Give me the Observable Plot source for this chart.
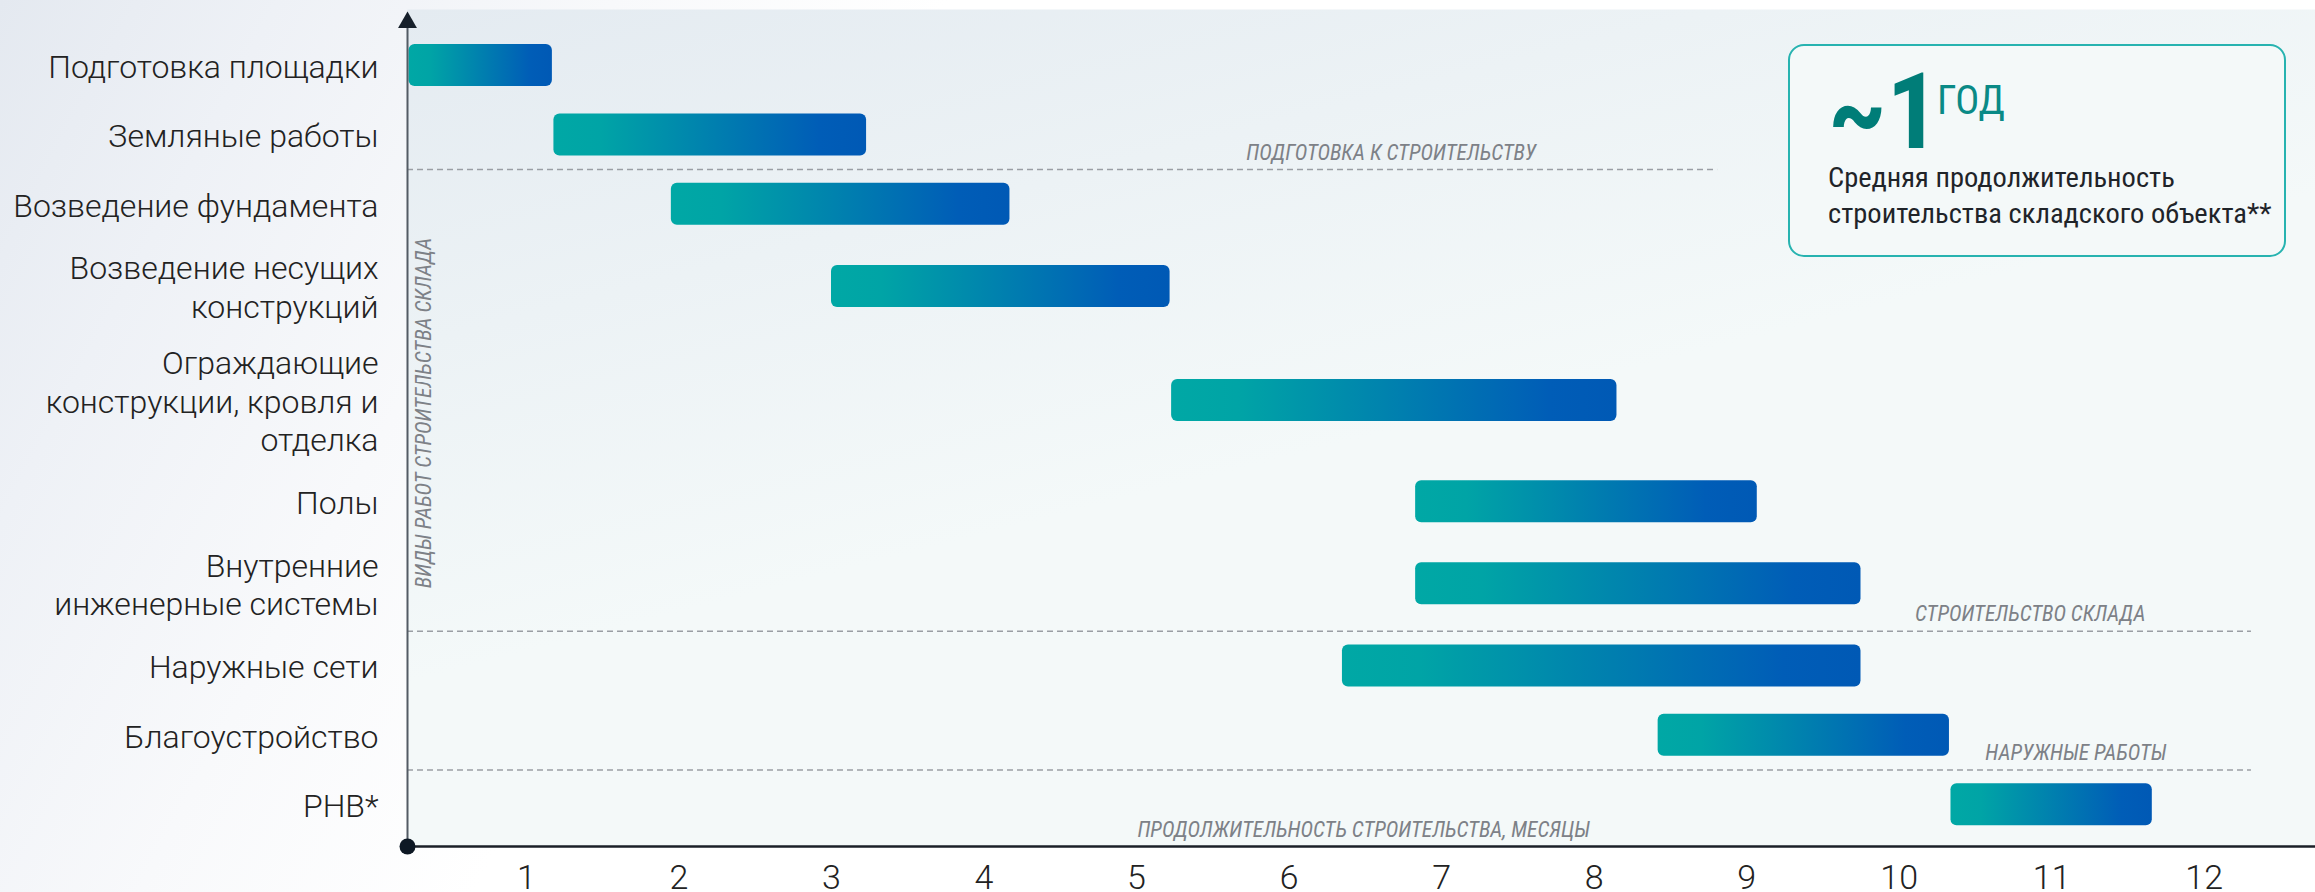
<!DOCTYPE html>
<html><head><meta charset="utf-8">
<script src="https://cdn.jsdelivr.net/npm/d3@7"></script>
<script src="https://cdn.jsdelivr.net/npm/@observablehq/plot@0.6"></script>
<style>
html,body{margin:0;padding:0;}
body{width:2315px;height:892px;overflow:hidden;background:linear-gradient(118deg,#e4e9f0 0%,#eef1f6 10%,#f8f9fb 22%,#ffffff 34%);font-family:Roboto,"Noto Sans",sans-serif;}
#wrap{position:relative;width:2315px;height:892px;}
#wrap svg{position:absolute;left:0;top:0;}
.box{position:absolute;left:1788px;top:44px;width:494px;height:209px;border:2px solid #27b3b0;border-radius:16px;background:#f4f9f9;}
.box .big{position:absolute;left:38px;top:27px;font:700 105px/80px "Roboto Condensed","Liberation Sans Narrow",Roboto,sans-serif;color:#007d78;}
.box .unit{position:absolute;left:147px;top:35px;font:400 40px/1 "Roboto Condensed","Liberation Sans Narrow","DejaVu Sans Condensed",Roboto,sans-serif;color:#0a8a86;}
.box .desc{position:absolute;left:38px;top:114px;font:400 28.5px/36px "Roboto Condensed","Liberation Sans Narrow","DejaVu Sans Condensed",Roboto,sans-serif;color:#1f2429;white-space:nowrap;}
</style>
</head><body>
<div id="wrap">
  <div class="box"><span class="big">~1</span><span class="unit">ГОД</span><div class="desc">Средняя продолжительность<br>строительства складского объекта**</div></div>
</div>
<script>
// ---- data ----
const categories = [
  "Подготовка площадки",
  "Земляные работы",
  "Возведение фундамента",
  "Возведение несущих\nконструкций",
  "Ограждающие\nконструкции, кровля и\nотделка",
  "Полы",
  "Внутренние\nинженерные системы",
  "Наружные сети",
  "Благоустройство",
  "РНВ*"
];
const starts = [0.23, 1.18, 1.95, 3.00, 5.23, 6.83, 6.83, 6.35, 8.42, 10.34];
const ends   = [1.17, 3.23, 4.17, 5.22, 8.15, 9.07, 9.75, 9.75, 10.33, 11.66];
const monthTicks = [1, 2, 3, 4, 5, 6, 7, 8, 9, 10, 11, 12];
const phaseLabels = ["ПОДГОТОВКА К СТРОИТЕЛЬСТВУ", "СТРОИТЕЛЬСТВО СКЛАДА", "НАРУЖНЫЕ РАБОТЫ"];
const phaseLastRow = [1, 6, 8];
const phaseLineEnd = [8.81, 12.31, 12.31];
const phaseLabelX = [6.67, 10.86, 11.16];
const xTitle = "ПРОДОЛЖИТЕЛЬНОСТЬ СТРОИТЕЛЬСТВА, МЕСЯЦЫ";
const xTitleX = 6.49;
const yTitle = "ВИДЫ РАБОТ СТРОИТЕЛЬСТВА СКЛАДА";
const xStart = 0.22, xEnd = 12.73;

// ---- layout ----
const W = 2315, H = 892, mTop = 9, mBottom = 46, mLeft = 407, mRight = 0;
const inner = H - mTop - mBottom;
const labelFont = 32, labelLH = 1.2;
const rowH = lines => Math.max(69.4, lines * labelFont * labelLH + 18);
let cursor = 21.3;
const rows = categories.map((label, i) => {
  const h = rowH(label.split("\n").length);
  const r = {label, start: starts[i], end: ends[i], c: cursor + h / 2, top: cursor, bottom: cursor + h};
  cursor += h;
  return r;
});
const total = inner; // units = px in the panel
const half = 21;
const phases = phaseLabels.map((label, i) => ({
  label, y: rows[phaseLastRow[i]].bottom, end: phaseLineEnd[i], lx: phaseLabelX[i]
}));
const condensed = "'Roboto Condensed','Liberation Sans Narrow','DejaVu Sans Condensed',Roboto,sans-serif";
const noteFont = 21.5, noteColor = "#7d8187";

const chart = Plot.plot({
  width: W, height: H,
  marginTop: mTop, marginBottom: mBottom, marginLeft: mLeft, marginRight: mRight,
  style: "background: transparent; overflow: visible; font-family: Roboto, sans-serif;",
  x: {domain: [xStart, xEnd], axis: null},
  y: {domain: [total, 0], axis: null},
  marks: [
    Plot.frame({fill: "url(#panelGrad)", stroke: null}),
    Plot.ruleY(phases, {y: "y", x1: xStart, x2: "end", stroke: "#9a9ea4", strokeWidth: 1.5, strokeDasharray: "6,4"}),
    Plot.text(phases, {x: "lx", y: "y", text: "label", dy: -10, lineAnchor: "bottom", fontSize: noteFont, fontStyle: "italic", fontFamily: condensed, fill: noteColor}),
    Plot.rect(rows, {x1: "start", x2: "end", y1: d => d.c - half, y2: d => d.c + half, fill: "url(#barGrad)", rx: 6}),
    Plot.text(rows, {x: xStart, y: "c", text: "label", textAnchor: "end", dx: -29, fontSize: labelFont, fontWeight: 300, fill: "#222", lineHeight: labelLH}),
    Plot.ruleX([xStart], {y1: total, y2: 6, stroke: "#535b64", strokeWidth: 2}),
    Plot.dot([0], {x: xStart, y: 13, symbol: "triangle", r: 7, fill: "#17202b", stroke: null}),
    Plot.ruleY([total], {x1: xStart, x2: xEnd, stroke: "#1b2028", strokeWidth: 2.5}),
    Plot.dot([0], {x: xStart, y: total, r: 8, fill: "#0d1824", stroke: null}),
    Plot.text(monthTicks, {x: d => d, y: total, dy: 18, lineAnchor: "top", fontSize: 34, fontWeight: 300, fill: "#222"}),
    Plot.text([xTitle], {x: xTitleX, y: total, dy: -10, lineAnchor: "bottom", text: d => d, fontSize: noteFont, fontStyle: "italic", fontFamily: condensed, fill: noteColor}),
    Plot.text([yTitle], {frameAnchor: "left", text: d => d, rotate: -90, textAnchor: "middle", dx: 17, dy: -15, fontSize: noteFont, fontStyle: "italic", fontFamily: condensed, fill: noteColor})
  ]
});

const svg = d3.select(chart);
const defs = svg.insert("defs", ":first-child");
const bg = defs.append("linearGradient").attr("id", "barGrad").attr("x1", 0).attr("x2", 1).attr("y1", 0).attr("y2", 0);
[[0, "#00a8a5"], [0.15, "#00a4a6"], [0.85, "#005db7"], [1, "#0059b5"]].forEach(([o, c]) => bg.append("stop").attr("offset", o).attr("stop-color", c));
const pg = defs.append("linearGradient").attr("id", "panelGrad").attr("x1", 0).attr("y1", 0).attr("x2", 0.35).attr("y2", 0.6);
[[0, "#e4ebf1"], [1, "#f4f9f9"]].forEach(([o, c]) => pg.append("stop").attr("offset", o).attr("stop-color", c));

document.getElementById("wrap").prepend(chart);
</script>
</body></html>
